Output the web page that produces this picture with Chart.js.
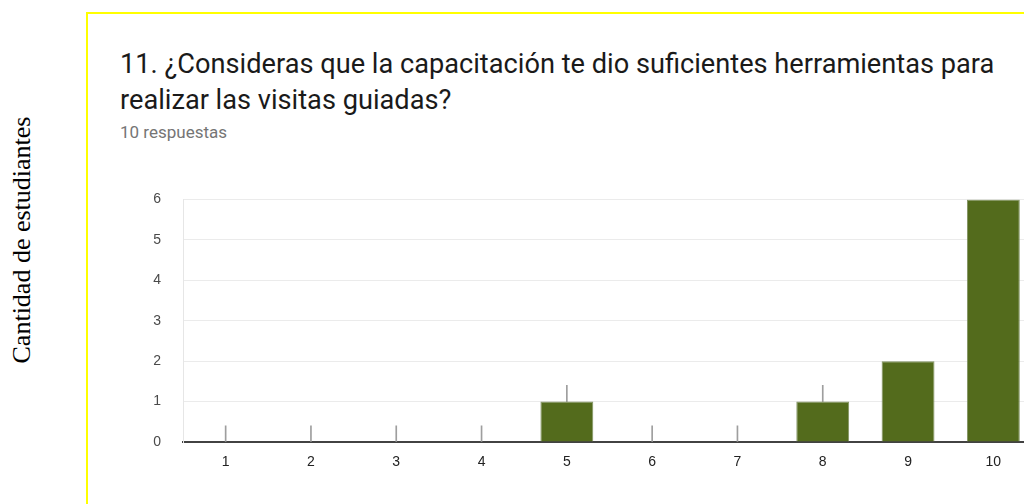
<!DOCTYPE html>
<html><head><meta charset="utf-8">
<script src="https://cdn.jsdelivr.net/npm/chart.js@4.4.1/dist/chart.umd.min.js"></script>
<style>
html,body{margin:0;padding:0;width:1024px;height:504px;overflow:hidden;background:#fff;}
#frame{position:absolute;left:86px;top:12px;width:1000px;height:600px;border:2px solid #ffff00;box-sizing:border-box;}
#title{position:absolute;left:120px;top:46px;font-family:Roboto,sans-serif;font-size:27.2px;line-height:36px;color:#1a1a1a;white-space:nowrap;}
#sub{position:absolute;left:120px;top:122px;font-family:Roboto,sans-serif;font-size:17px;line-height:20px;color:#757575;white-space:nowrap;}
#ytitle{position:absolute;left:22px;top:240px;font-family:"Liberation Serif","Times New Roman",serif;font-size:26px;color:#000;white-space:nowrap;transform:translate(-50%,-50%) rotate(-90deg);}
#wrap{position:absolute;left:120px;top:169px;width:960px;height:321px;}
</style>
</head><body>
<div id="frame"></div>
<div id="title">11. ¿Consideras que la capacitación te dio suficientes herramientas para<br>realizar las visitas guiadas?</div>
<div id="sub">10 respuestas</div>
<div id="ytitle">Cantidad de estudiantes</div>
<div id="wrap"><canvas id="c"></canvas></div>
<script>
const categories = ["1","2","3","4","5","6","7","8","9","10"];
const counts = [0,0,0,0,1,0,0,1,2,6];
const markers = [[0,0.4],[0,0.4],[0,0.4],[0,0.4],[1,1.4],[0,0.4],[0,0.4],[1,1.4],null,null];
const yTicks = [0,1,2,3,4,5,6];

new Chart(document.getElementById('c'), {
  type: 'bar',
  data: {
    labels: categories,
    datasets: [
      {data: counts, backgroundColor: '#536b1c', borderColor: '#7f9160', borderWidth: 1, categoryPercentage: 1, barPercentage: 0.62, order: 1},
      {data: markers, backgroundColor: '#9e9e9e', borderWidth: 0, barThickness: 1, order: 2}
    ]
  },
  options: {
    responsive: true, maintainAspectRatio: false, animation: false,
    layout: {padding: {top: 9, right: 44, left: 0, bottom: 0}},
    plugins: {legend: {display: false}, tooltip: {enabled: false}},
    datasets: {bar: {grouped: false}},
    scales: {
      x: {
        grid: {display: false, drawTicks: false},
        border: {display: true, color: '#424242', width: 2},
        ticks: {padding: 12, color: '#222', font: {family: 'Liberation Sans, Arial', size: 14}},
        afterFit: s => { s.height = 48; }
      },
      y: {
        min: 0, max: 6,
        afterBuildTicks: s => { s.ticks = yTicks.map(v => ({value: v})); },
        grid: {color: '#ebebeb', drawTicks: false},
        border: {display: true, color: '#e6e6e6', width: 1},
        ticks: {padding: 22, color: '#4a4a4a', font: {family: 'Liberation Sans, Arial', size: 14}},
        afterFit: s => { s.width = 63; }
      }
    }
  }
});
</script>
</body></html>
